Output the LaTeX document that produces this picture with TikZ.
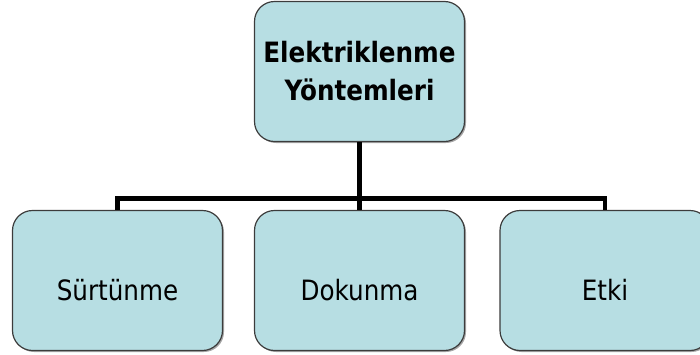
\documentclass[tikz,border=0pt]{standalone}
\usepackage{fontspec}
\setmainfont{DejaVu Sans}[FakeStretch=0.88]
\usetikzlibrary{shadows}
\definecolor{boxfill}{RGB}{183,222,227}
\definecolor{boxline}{RGB}{60,60,60}
\tikzset{
  every picture/.style={x=1pt,y=-1pt},
  topic/.style={draw=boxline, line width=1.2pt, fill=boxfill, rounded corners=20pt,
    minimum width=210pt, minimum height=140pt, inner sep=0pt,
    drop shadow={shadow xshift=1.5pt, shadow yshift=-1.5pt, opacity=0.35, fill=black},
    font=\fontsize{28}{38}\selectfont, align=center},
  leaf/.style={topic, text height=40pt, text depth=0pt},
  link/.style={line width=4.8pt, black}
}
\begin{document}
\begin{tikzpicture}
  \useasboundingbox (0,0) rectangle (700,354);
  \clip (0,0) rectangle (700,354);
  \node[topic, font=\fontsize{28}{38}\selectfont\bfseries] (root) at (359.5,71.5) {Elektriklenme\\Yöntemleri};
  \node[leaf] (surt) at (117.5,280.5) {Sürtünme};
  \node[leaf] (dok)  at (359.5,280.5) {Dokunma};
  \node[leaf] (etki) at (605,280.5) {Etki};
  \draw[link] (root.south) -- (dok.north);
  \draw[link] (root.south) ++(0,56) coordinate (bus) -| (surt.north);
  \draw[link] (bus) -| (etki.north);
\end{tikzpicture}
\end{document}
